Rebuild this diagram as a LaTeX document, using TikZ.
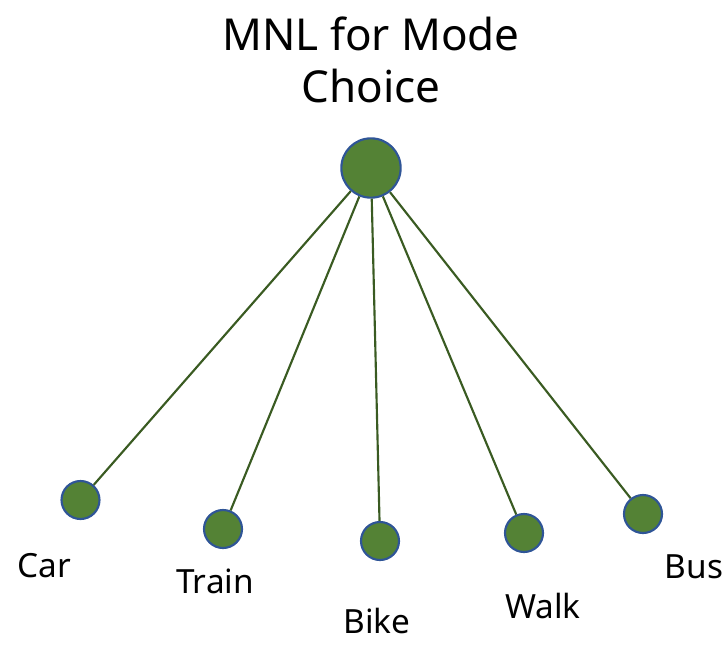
\documentclass[tikz,border=0pt]{standalone}
\usepackage{fontspec}
\setmainfont{Noto Sans}
\begin{document}
\begin{tikzpicture}[x=0.75pt,y=-0.75pt,
  dot/.style={circle,draw=nodeblue,fill=nodegreen,line width=1.6pt,inner sep=0pt,minimum size=#1},
  edge/.style={draw=edgegreen,line width=1.6pt},
  lbl/.style={anchor=base,inner sep=0pt,font=\fontsize{25}{30}\selectfont,text=black}]
\definecolor{nodeblue}{HTML}{2F5597}
\definecolor{nodegreen}{HTML}{548235}
\definecolor{edgegreen}{HTML}{3A5B22}
\useasboundingbox (0,0) rectangle (725,644);
\node[anchor=base,inner sep=0pt,font=\fontsize{33}{39}\selectfont] (t1) at (371,50) {MNL for Mode};
\node[anchor=base,inner sep=0pt,font=\fontsize{33}{39}\selectfont] (t2) at (371,102) {Choice};
\node[dot=44.5pt] (root) at (371,168) {};
\node[dot=28.5pt] (car) at (80.5,500) {};
\node[dot=28.5pt] (train) at (223,529) {};
\node[dot=28.5pt] (bike) at (380,541) {};
\node[dot=28.5pt] (walk) at (524,533) {};
\node[dot=28.5pt] (bus) at (643,514) {};
\foreach \n in {car,train,bike,walk,bus}{
  \draw[edge] (root) -- (\n);
}
\node[lbl] (lcar) at (44,577) {Car};
\node[lbl] (ltrain) at (215,593) {Train};
\node[lbl] (lbike) at (377,633) {Bike};
\node[lbl] (lwalk) at (543,618) {Walk};
\node[lbl] (lbus) at (694,578) {Bus};
\end{tikzpicture}
\end{document}
